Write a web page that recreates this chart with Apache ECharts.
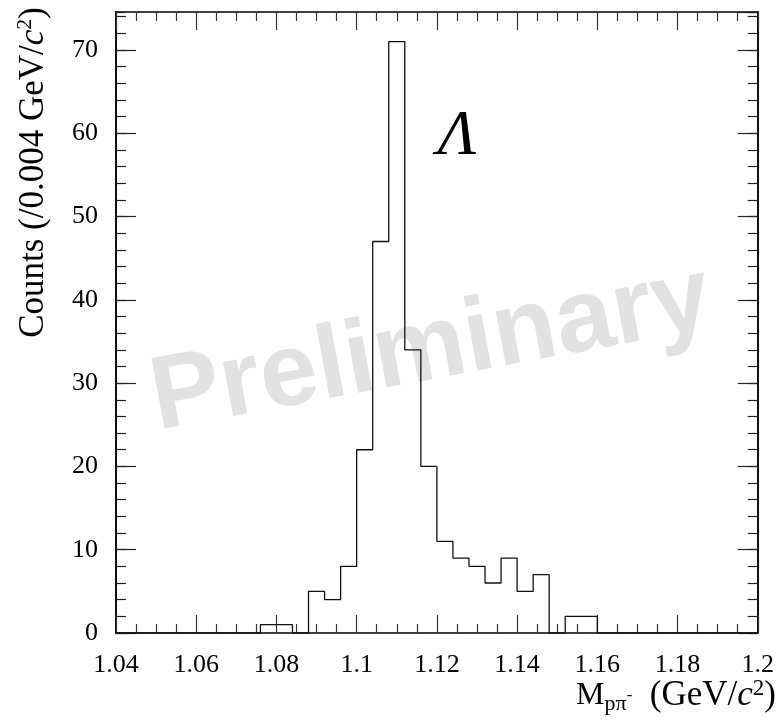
<!DOCTYPE html>
<html>
<head>
<meta charset="utf-8">
<script src="https://cdn.jsdelivr.net/npm/echarts@6/dist/echarts.min.js"></script>
<style>
html,body{margin:0;padding:0;background:#fff;}
#chart{width:777px;height:721px;}
</style>
</head>
<body>
<div id="chart"></div>
<script>
// Bin edges (GeV/c^2), 0.004 wide
var binEdges = [1.040,1.044,1.048,1.052,1.056,1.060,1.064,1.068,1.072,1.076,
                1.080,1.084,1.088,1.092,1.096,1.100,1.104,1.108,1.112,1.116,
                1.120,1.124,1.128,1.132,1.136,1.140,1.144,1.148,1.152,1.156,
                1.160,1.164,1.168,1.172,1.176,1.180,1.184,1.188,1.192,1.196,1.200];
// Counts per bin
var counts = [0,0,0,0,0,0,0,0,0,1,
              1,0,5,4,8,22,47,71,34,20,
              11,9,8,6,9,5,7,0,2,2,
              0,0,0,0,0,0,0,0,0,0];
var xTickLabels = ['1.04','1.06','1.08','1.1','1.12','1.14','1.16','1.18','1.2'];
var yTickLabels = ['0','10','20','30','40','50','60','70'];

var xMin = 1.04, xMax = 1.2, yMin = 0, yMax = 74.55;

var stepData = [];
for (var i = 0; i < counts.length; i++) stepData.push([binEdges[i], counts[i]]);
stepData.push([binEdges[binEdges.length - 1], 0]);

var serif = '"Liberation Serif","DejaVu Serif",serif';
var black = '#000';

function xAxisCfg(pos, showLabel) {
  return {
    type: 'value', position: pos, min: xMin, max: xMax, interval: 0.02,
    axisLine: { show: true, onZero: false, lineStyle: { color: black, width: 1.5 } },
    axisTick: { show: true, inside: true, length: 18, lineStyle: { color: '#333', width: 1.2 } },
    minorTick: { show: true, splitNumber: 4, length: 9, lineStyle: { color: '#333', width: 1.2 } },
    splitLine: { show: false }, minorSplitLine: { show: false },
    axisLabel: {
      show: showLabel, margin: 19, fontSize: 26, fontFamily: serif, color: black,
      showMinLabel: true, showMaxLabel: true,
      formatter: function (v) {
        var s = parseFloat(v.toFixed(3)).toString();
        return xTickLabels.indexOf(s) >= 0 ? s : '';
      }
    }
  };
}
function yAxisCfg(pos, interval, len, showLabel) {
  return {
    type: 'value', position: pos, min: yMin, max: yMax, interval: interval,
    axisLine: { show: true, onZero: false, lineStyle: { color: black, width: 1.5 } },
    axisTick: { show: true, inside: true, length: len, lineStyle: { color: '#222', width: 1.2 } },
    splitLine: { show: false },
    axisLabel: {
      show: showLabel, margin: 18, fontSize: 26, fontFamily: serif, color: black,
      showMaxLabel: false,
      formatter: function (v) {
        var s = String(Math.round(v));
        return (Math.abs(v - Math.round(v)) < 1e-6 && yTickLabels.indexOf(s) >= 0) ? s : '';
      }
    }
  };
}

var chart = echarts.init(document.getElementById('chart'), null, { renderer: 'canvas' });
chart.setOption({
  backgroundColor: '#fff',
  animation: false,
  grid: { left: 116, right: 19, top: 12, bottom: 88, containLabel: false },
  xAxis: [xAxisCfg('bottom', true), xAxisCfg('top', false)],
  yAxis: [
    yAxisCfg('left', 10, 20, true),
    yAxisCfg('left', 2, 10, false),
    yAxisCfg('right', 10, 20, false),
    yAxisCfg('right', 2, 10, false)
  ],
  graphic: [
    {
      type: 'text', x: 431, y: 350, rotation: 10.5 * Math.PI / 180, z: 0,
      style: {
        text: 'Preliminary', fill: '#e2e2e2',
        font: 'bold 104px "Liberation Sans", Arial, sans-serif',
        textAlign: 'center', textVerticalAlign: 'middle'
      }
    },
    {
      type: 'text', x: 457, y: 137, z: 5,
      style: {
        text: 'Λ', fill: black,
        font: 'italic 64px "Liberation Serif", serif',
        textAlign: 'center', textVerticalAlign: 'middle'
      }
    },
    {
      type: 'text', x: 34, y: 7, rotation: Math.PI / 2, z: 5,
      style: {
        text: 'Counts (/0.004 GeV/{i|c}{s|2})',
        fill: black, font: '35px "Liberation Serif", serif',
        textAlign: 'right', textVerticalAlign: 'middle',
        rich: {
          i: { fontStyle: 'italic', fontSize: 35, fontFamily: 'Liberation Serif', fill: black, lineHeight: 40, verticalAlign: 'middle' },
          s: { fontSize: 22, fontFamily: 'Liberation Serif', fill: black, lineHeight: 40, verticalAlign: 'top' }
        }
      }
    },
    {
      type: 'text', x: 776, y: 696, z: 5,
      style: {
        text: '{m|M}{b|pπ}{t|-}{r|  (GeV/}{i|c}{t2|2}{r|)}',
        fill: black, font: '35px "Liberation Serif", serif',
        textAlign: 'right', textVerticalAlign: 'middle',
        rich: {
          m: { fontSize: 32, fontFamily: 'Liberation Serif', fill: black, lineHeight: 38, verticalAlign: 'middle' },
          r: { fontSize: 35, fontFamily: 'Liberation Serif', fill: black, lineHeight: 38, verticalAlign: 'middle' },
          i: { fontSize: 35, fontStyle: 'italic', fontFamily: 'Liberation Serif', fill: black, lineHeight: 38, verticalAlign: 'middle' },
          b: { fontSize: 22, fontFamily: 'Liberation Serif', fill: black, lineHeight: 22, verticalAlign: 'bottom' },
          t: { fontSize: 17, fontFamily: 'Liberation Serif', fill: black, lineHeight: 38, verticalAlign: 'middle' },
          t2: { fontSize: 23, fontFamily: 'Liberation Serif', fill: black, lineHeight: 38, verticalAlign: 'top' }
        }
      }
    }
  ],
  series: [{
    type: 'line', xAxisIndex: 0, yAxisIndex: 0,
    step: 'end', data: stepData, symbol: 'none', z: 3,
    lineStyle: { color: '#111', width: 1.3 },
    clip: true
  }]
});
</script>
</body>
</html>
